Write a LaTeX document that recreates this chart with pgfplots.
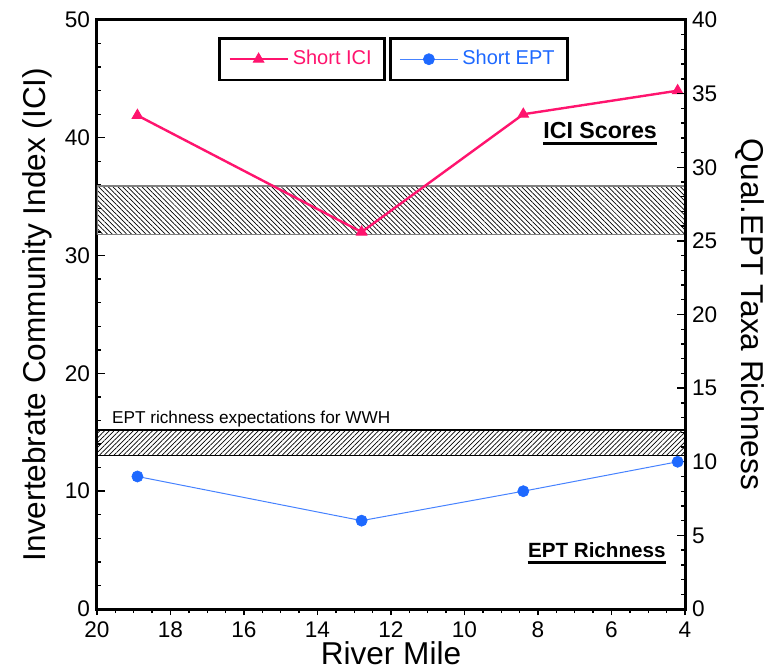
\documentclass[border=0pt]{standalone}
\usepackage{pgfplots}
\pgfplotsset{compat=1.18}
\usepackage{fontspec}
\setmainfont{Liberation Sans}
\usetikzlibrary{patterns.meta}
\definecolor{iciPink}{RGB}{255,20,110}
\definecolor{eptBlue}{RGB}{30,105,255}
\definecolor{eptLine}{RGB}{70,130,255}
\pgfplotsset{
  common/.style={
    scale only axis, width=294bp, height=294.5bp,
    xmin=4, xmax=20, x dir=reverse,
    /pgf/number format/assume math mode=true,
    tick label style={font=\fontsize{11.3bp}{13bp}\selectfont},
    label style={font=\fontsize{15.8bp}{18bp}\selectfont},
    axis line style={line width=1.5bp},
    tick style={line width=0.7bp, black},
    major tick length=4bp, minor tick length=2bp,
  },
  longlegend/.style={
    legend image code/.code={%
      \draw[##1] (0bp,0bp) -- (29bp,0bp);
      \draw[##1, only marks] plot coordinates {(14.5bp,0bp)};
    }
  }
}
\begin{document}
\begin{tikzpicture}
\path[use as bounding box] (-48.5bp,-30.5bp) rectangle (333.5bp,304.5bp);
% Axis A: ICI (left)
\begin{axis}[common,
  ymin=0, ymax=50, ytick={0,10,...,50}, minor y tick num=4,
  ytick pos=left, xtick=\empty, tick align=inside,
  ylabel={Invertebrate Community Index (ICI)},
  ylabel style={at={(axis description cs:-0.102,0.5)}, anchor=center},
  legend style={draw=black, line width=1.4bp, inner xsep=4.5bp, inner ysep=4bp,
    font=\fontsize{10bp}{12bp}\selectfont, text=iciPink,
    at={(axis description cs:0.2058,0.971)}, anchor=north west},
  legend cell align=left,
]
\addplot[forget plot, draw=gray, line width=0.6bp,
  pattern={Lines[angle=-45,distance=1.7bp,line width=0.35bp]}]
  coordinates {(4,31.8) (20,31.8) (20,35.9) (4,35.9) (4,31.8)};
\addplot[forget plot, draw=black, line width=0.6bp,
  pattern={Lines[angle=45,distance=1.7bp,line width=0.35bp]}]
  coordinates {(4,13.0) (20,13.0) (20,15.2) (4,15.2) (4,13.0)};
\addplot[longlegend, iciPink, line width=1.2bp, mark=triangle*, mark size=3bp,
  mark options={solid, line width=0.5bp, fill=iciPink}]
  coordinates {(18.9,41.9) (12.8,32.0) (8.4,42.0) (4.2,44.0)};
\addlegendentry{Short ICI}
\node[anchor=base west, font=\fontsize{8.6bp}{10bp}\selectfont, inner sep=0]
  at (axis cs:19.6,15.75) {EPT richness expectations for WWH};
\node[font=\fontsize{11.6bp}{13bp}\selectfont\bfseries, inner sep=0] (ici)
  at (axis cs:6.31,40.6) {ICI Scores};
\draw[line width=1.4bp] ([yshift=-2.2bp]ici.south west) -- ([yshift=-2.2bp]ici.south east);
\node[font=\fontsize{10.3bp}{12bp}\selectfont\bfseries, inner sep=0] (ept)
  at (axis cs:6.4,5.0) {EPT Richness};
\draw[line width=1.4bp] ([yshift=-2.2bp]ept.south west) -- ([yshift=-2.2bp]ept.south east);
\end{axis}
% Axis B: x axis
\begin{axis}[common,
  ymin=0, ymax=50, hide y axis, axis x line*=bottom,
  xtick={4,6,...,20}, minor x tick num=3, tick align=outside,
  major tick length=3bp, minor tick length=2bp,
  xlabel={River Mile},
  xlabel style={at={(axis description cs:0.5,-0.075)}, anchor=center},
]
\addplot[draw=none] coordinates {(10,10)};
\end{axis}
% Axis C: EPT (right)
\begin{axis}[common,
  ymin=0, ymax=40, ytick={0,5,...,40}, minor y tick num=4,
  axis y line*=right, hide x axis, tick align=inside,
  ylabel={Qual.EPT Taxa Richness},
  ylabel style={at={(axis description cs:1.11,0.5)}, anchor=center, rotate=180},
  legend style={draw=black, line width=1.4bp, inner xsep=4.5bp, inner ysep=4bp,
    font=\fontsize{10bp}{12bp}\selectfont, text=eptBlue,
    at={(axis description cs:0.4966,0.971)}, anchor=north west},
  legend cell align=left,
]
\addplot[longlegend, eptLine, line width=0.5bp, mark=*, mark size=2.8bp,
  mark options={solid, draw=eptBlue, fill=eptBlue, line width=0.3bp}]
  coordinates {(18.9,9) (12.8,6) (8.4,8) (4.2,10)};
\addlegendentry{Short EPT}
\end{axis}
\end{tikzpicture}
\end{document}
